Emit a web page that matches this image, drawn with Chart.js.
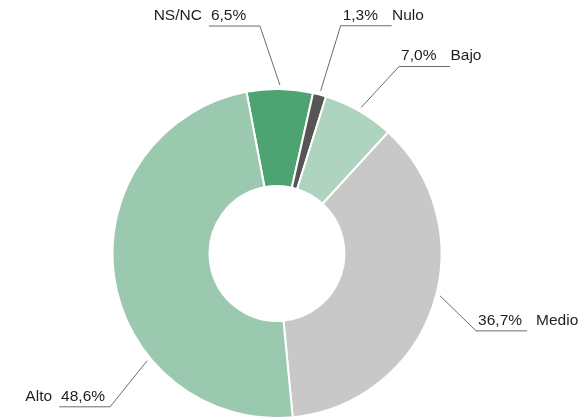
<!DOCTYPE html>
<html>
<head>
<meta charset="utf-8">
<script src="https://cdn.jsdelivr.net/npm/chart.js@4/dist/chart.umd.min.js"></script>
<style>
    html, body { margin: 0; padding: 0; background: #fff; }
    #wrap { width: 581px; height: 419px; }
</style>
</head>
<body>
<div id="wrap"><canvas id="donut" width="581" height="419"></canvas></div>
<script>
// clockwise from the top
const categories = ['NS/NC', 'Nulo', 'Bajo', 'Medio', 'Alto'];
const values = [6.5, 1.3, 7.0, 36.7, 48.6];
const valueLabels = ['6,5%', '1,3%', '7,0%', '36,7%', '48,6%'];
const colors = ['#4ea372', '#555555', '#aed3bf', '#c8c8c8', '#9ac9b0'];

// label layout: where the leader leaves the slice (fraction of the slice), elbow offset, side
const labelFrac = [0.5, 0.5, 0.5, 0.47, 0.32];
const elbowDx = [-20, 20, 38, 36, -37];
const elbowDy = [-59, -65, -41, 35, 46];
const labelSide = ['left', 'right', 'right', 'right', 'left'];

const calloutPlugin = {
    id: 'callouts',
    afterDraw(chart) {
        const ctx = chart.ctx;
        const meta = chart.getDatasetMeta(0);
        ctx.save();
        ctx.font = '15.5px "Liberation Sans", Arial, sans-serif';
        ctx.textBaseline = 'alphabetic';
        meta.data.forEach((arc, i) => {
            const p = arc.getProps(['x', 'y', 'startAngle', 'endAngle', 'outerRadius'], true);
            const a = p.startAngle + labelFrac[i] * (p.endAngle - p.startAngle);
            const r = p.outerRadius + 4;
            const x0 = p.x + Math.cos(a) * r;
            const y0 = p.y + Math.sin(a) * r;
            const x1 = x0 + elbowDx[i];
            const y1 = y0 + elbowDy[i];
            const len = 51;
            const x2 = labelSide[i] === 'left' ? x1 - len : x1 + len;

            ctx.strokeStyle = '#6b6b6b';
            ctx.lineWidth = 1;
            ctx.beginPath();
            ctx.moveTo(x0, y0);
            ctx.lineTo(x1, y1);
            ctx.lineTo(x2, y1);
            ctx.stroke();

            ctx.fillStyle = '#1e1e1e';
            const ty = y1 - 6;
            ctx.textAlign = 'left';
            if (labelSide[i] === 'left') {
                ctx.fillText(valueLabels[i], x2 + 2, ty);
                ctx.textAlign = 'right';
                ctx.fillText(categories[i], x2 - 7, ty);
            } else {
                const vx = x1 + 2;
                ctx.fillText(valueLabels[i], vx, ty);
                const w = ctx.measureText(valueLabels[i]).width;
                ctx.fillText(categories[i], vx + w + 14, ty);
            }
        });
        ctx.restore();
    }
};

new Chart(document.getElementById('donut'), {
    type: 'doughnut',
    data: {
        labels: categories,
        datasets: [{
            data: values,
            backgroundColor: colors,
            borderColor: '#ffffff',
            borderWidth: 2,
            hoverOffset: 0
        }]
    },
    options: {
        responsive: false,
        animation: false,
        rotation: -10.7,
        cutout: '41%',
        layout: { padding: { left: 111, right: 138, top: 88, bottom: 0 } },
        plugins: {
            legend: { display: false },
            tooltip: { enabled: false }
        },
        events: []
    },
    plugins: [calloutPlugin]
});
</script>
</body>
</html>
